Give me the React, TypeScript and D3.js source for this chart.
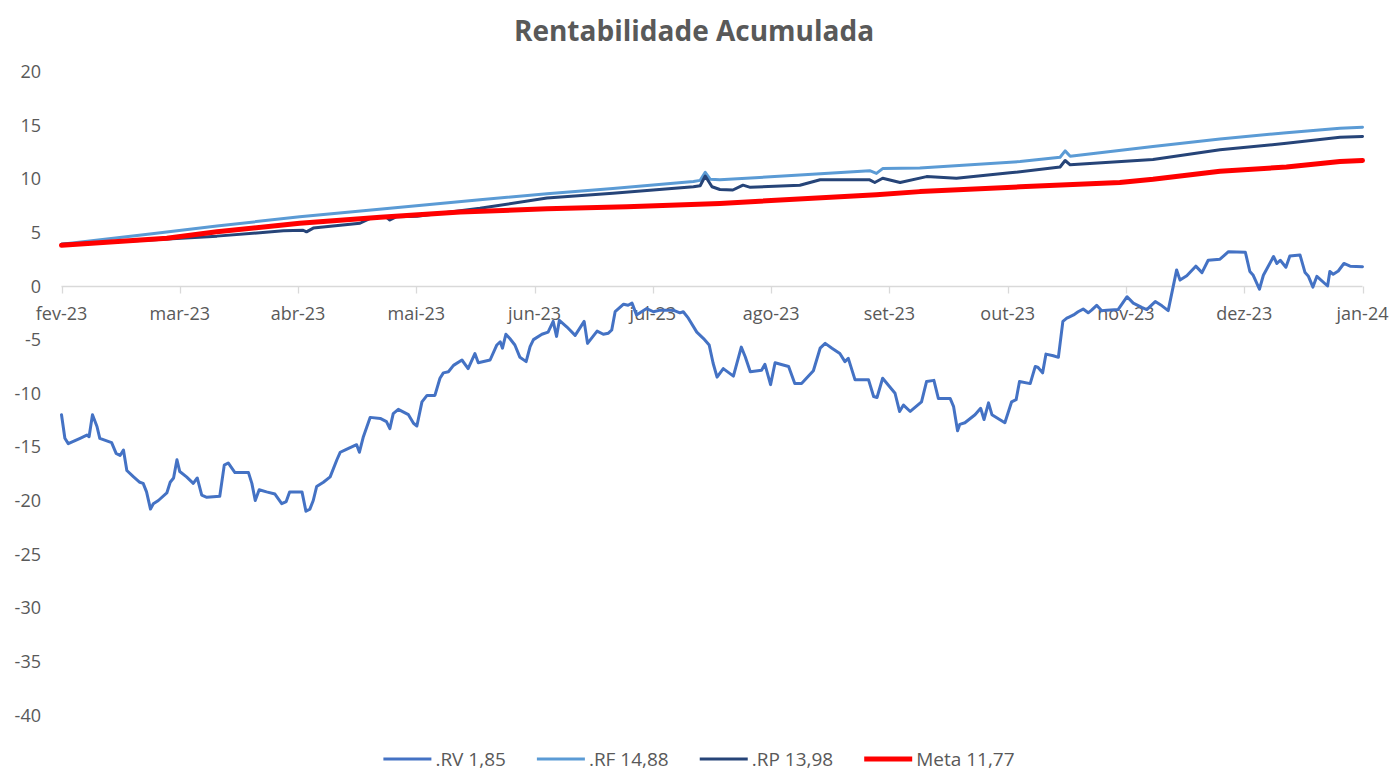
import React, { useEffect, useRef } from "react";
import * as d3 from "d3";

// x = business-day index since start of fev-23 (21 per month label)
const monthLabels = ["fev-23","mar-23","abr-23","mai-23","jun-23","jul-23","ago-23","set-23","out-23","nov-23","dez-23","jan-24"];
const daysPerLabel = 21;
const yTicks = [20, 15, 10, 5, 0, -5, -10, -15, -20, -25, -30, -35, -40];

const rvPoints: [number, number][] = [
  [0,-12.0],[0.6,-14.2],[1.2,-14.7],[3.3,-14.2],[4.5,-13.9],[4.9,-14.05],[5.5,-12.0],[6.3,-13.1],[6.8,-14.2],[8.9,-14.6],[9.7,-15.6],[10.4,-15.8],[11.0,-15.3],[11.6,-17.2],[12.8,-17.8],[13.9,-18.3],[14.5,-18.4],[15.1,-19.2],[15.8,-20.8],[16.3,-20.3],[17.2,-20.0],[18.7,-19.3],[19.3,-18.3],[19.9,-17.9],[20.5,-16.2],[21.0,-17.3],[22.2,-17.8],[23.4,-18.4],[24.1,-17.9],[24.9,-19.5],[25.8,-19.7],[28.1,-19.6],[28.9,-16.7],[29.6,-16.5],[30.8,-17.4],[33.2,-17.4],[33.8,-18.4],[34.4,-20.0],[35.1,-19.0],[36.4,-19.2],[37.9,-19.4],[39.1,-20.3],[39.9,-20.1],[40.5,-19.2],[42.7,-19.2],[43.4,-21.0],[44.1,-20.8],[44.7,-20.0],[45.3,-18.7],[46.5,-18.3],[47.7,-17.8],[48.9,-16.2],[49.5,-15.5],[50.3,-15.3],[52.4,-14.8],[52.9,-15.5],[53.6,-14.05],[54.8,-12.25],[56.6,-12.35],[57.7,-12.65],[58.3,-13.3],[58.9,-11.9],[59.8,-11.5],[61.6,-12.0],[62.5,-12.8],[63.1,-13.05],[64.0,-10.8],[64.9,-10.2],[66.3,-10.2],[67.2,-8.6],[67.8,-8.1],[68.7,-8.0],[69.6,-7.4],[71.1,-6.9],[72.2,-7.7],[73.4,-6.3],[74.0,-7.15],[76.1,-6.9],[77.3,-5.5],[77.9,-5.2],[78.3,-5.8],[78.9,-4.5],[79.6,-4.9],[80.5,-5.5],[81.4,-6.65],[82.5,-7.05],[83.2,-5.65],[83.8,-5.0],[85.3,-4.5],[86.4,-4.3],[87.3,-3.3],[87.9,-4.7],[88.4,-3.2],[89.7,-3.8],[91.2,-4.6],[92.8,-3.3],[93.4,-5.35],[95.1,-4.2],[96.2,-4.5],[97.1,-4.4],[97.7,-4.1],[98.3,-2.4],[99.8,-1.7],[100.6,-1.8],[101.3,-1.6],[102.1,-2.7],[103.0,-2.4],[103.9,-2.1],[105.1,-2.4],[106.3,-2.25],[108.6,-2.25],[109.8,-2.5],[110.4,-2.4],[111.3,-3.0],[112.8,-4.3],[114.0,-4.9],[115.0,-5.5],[115.7,-7.2],[116.4,-8.5],[117.5,-7.7],[119.3,-8.4],[120.7,-5.7],[121.4,-6.6],[122.3,-8.0],[124.3,-7.85],[124.9,-7.3],[125.9,-9.2],[126.7,-7.15],[129.1,-7.5],[130.2,-9.1],[131.4,-9.1],[133.5,-7.9],[134.7,-5.8],[135.6,-5.35],[136.8,-5.8],[138.2,-6.3],[139.1,-7.05],[139.7,-6.75],[140.9,-8.75],[143.3,-8.75],[144.2,-10.3],[144.8,-10.4],[145.8,-8.6],[148.0,-10.0],[148.8,-11.7],[149.5,-11.1],[150.7,-11.7],[152.7,-10.8],[153.6,-8.9],[154.9,-8.8],[155.7,-10.5],[157.8,-10.5],[158.4,-11.25],[159.1,-13.5],[159.5,-12.9],[160.4,-12.75],[162.2,-12.0],[163.2,-11.4],[163.8,-12.45],[164.6,-10.9],[165.2,-12.0],[167.5,-12.75],[168.7,-10.8],[169.5,-10.6],[170.1,-8.9],[172.0,-9.1],[172.9,-7.5],[173.4,-7.6],[174.2,-8.1],[174.8,-6.35],[176.1,-6.5],[177.0,-6.65],[177.8,-3.3],[178.5,-3.0],[178.9,-2.9],[179.7,-2.7],[180.5,-2.4],[181.4,-2.15],[182.3,-2.5],[182.9,-2.25],[183.8,-1.8],[184.7,-2.3],[185.6,-2.25],[187.6,-2.2],[189.2,-1.0],[190.3,-1.6],[191.8,-2.0],[192.7,-2.2],[194.2,-1.45],[195.4,-1.85],[196.5,-2.3],[198.0,1.5],[198.6,0.55],[199.8,0.95],[201.4,1.85],[202.5,1.25],[203.6,2.4],[205.7,2.5],[207.2,3.2],[210.2,3.15],[211.0,1.35],[211.6,1.0],[212.7,-0.3],[213.4,1.0],[215.2,2.75],[215.8,2.1],[216.4,2.4],[217.4,1.75],[218.1,2.8],[219.9,2.9],[220.8,1.25],[221.4,0.9],[222.2,-0.1],[222.9,0.9],[224.8,0.0],[225.2,1.35],[225.8,1.1],[226.7,1.4],[227.7,2.1],[228.8,1.85],[231,1.8]
];

const rfPoints: [number, number][] = [
  [0,3.9],[15.7,4.85],[27.6,5.6],[42.3,6.45],[58.3,7.25],[74.3,8.05],[86.2,8.6],[97.9,9.1],[112.2,9.75],[113.4,9.85],[114.3,10.6],[115.2,9.95],[116.9,9.9],[131.1,10.35],[143.5,10.75],[144.7,10.5],[145.8,10.95],[152.4,11.0],[170.2,11.6],[177.3,12.0],[178.2,12.6],[179.1,12.1],[193.8,13.0],[205.7,13.7],[217.5,14.3],[227.0,14.7],[231,14.8]
];

const rpPoints: [number, number][] = [
  [0,3.9],[6.8,4.05],[15.7,4.3],[27.6,4.65],[39.4,5.15],[42.9,5.2],[43.5,5.05],[44.7,5.4],[53.0,5.85],[54.8,6.3],[57.6,6.45],[58.3,6.15],[59.4,6.45],[63.1,6.5],[74.3,7.25],[86.2,8.2],[97.9,8.65],[112.2,9.25],[113.4,9.35],[114.3,10.25],[115.5,9.25],[116.9,9.0],[119.2,8.95],[121.0,9.4],[122.3,9.2],[131.1,9.4],[134.7,9.9],[143.5,9.9],[144.4,9.65],[145.8,10.05],[148.9,9.65],[153.6,10.2],[158.9,10.05],[168.4,10.55],[177.3,11.1],[178.2,11.7],[179.1,11.3],[193.8,11.8],[205.7,12.7],[217.5,13.3],[227.0,13.87],[231,13.95]
];

const metaPoints: [number, number][] = [
  [0,3.8],[18.7,4.45],[27.6,5.05],[42.3,5.85],[56.6,6.4],[70.8,6.9],[86.2,7.2],[100.4,7.4],[116.9,7.7],[144.7,8.5],[152.4,8.8],[170.2,9.25],[187.9,9.65],[193.8,9.95],[205.7,10.7],[217.5,11.1],[227.0,11.6],[231,11.7]
];

const seriesNames = [".RV 1,85", ".RF 14,88", ".RP 13,98", "Meta 11,77"];
const seriesColors = ["#4472C4", "#5B9BD5", "#264478", "#FF0000"];
const seriesWidths = [3, 3, 3, 5];
const seriesData = [rvPoints, rfPoints, rpPoints, metaPoints];

const W = 1393;
const H = 773;
const FONT = "'Open Sans', 'Noto Sans', sans-serif";
const TEXT = "#595959";

export default function App() {
  const ref = useRef<SVGSVGElement | null>(null);

  useEffect(() => {
    document.body.style.margin = "0";
    const svg = d3.select(ref.current);
    svg.selectAll("*").remove();

    const lastDay = (monthLabels.length - 1) * daysPerLabel;
    const x = d3.scaleLinear().domain([0, lastDay]).range([61.5, 1362.5]);
    const y = d3.scaleLinear().domain([-40, 20]).range([715, 71.5]);

    svg.append("rect").attr("width", W).attr("height", H).attr("fill", "#fff");

    // title
    svg.append("text")
      .attr("x", 694).attr("y", 41)
      .attr("text-anchor", "middle")
      .attr("font-family", FONT).attr("font-weight", 700).attr("font-size", 28)
      .attr("fill", TEXT)
      .text("Rentabilidade Acumulada");

    // y labels
    svg.append("g").selectAll("text").data(yTicks).join("text")
      .attr("x", 41).attr("y", (d) => y(d) + 6.5)
      .attr("text-anchor", "end")
      .attr("font-family", FONT).attr("font-size", 18).attr("fill", TEXT)
      .text((d) => String(d));

    // x axis at 0
    const y0 = Math.round(y(0)) + 0.5;
    svg.append("line")
      .attr("x1", x(0)).attr("x2", x(lastDay))
      .attr("y1", y0).attr("y2", y0)
      .attr("stroke", "#D9D9D9").attr("stroke-width", 1.3);
    const ticks = monthLabels.map((m, i) => ({ m, d: i * daysPerLabel }));
    svg.append("g").selectAll("line").data(ticks).join("line")
      .attr("x1", (d) => Math.round(x(d.d)) + 0.5).attr("x2", (d) => Math.round(x(d.d)) + 0.5)
      .attr("y1", y0).attr("y2", y0 + 7)
      .attr("stroke", "#D9D9D9").attr("stroke-width", 1.3);
    svg.append("g").selectAll("text").data(ticks).join("text")
      .attr("x", (d) => x(d.d)).attr("y", y0 + 33)
      .attr("text-anchor", "middle")
      .attr("font-family", FONT).attr("font-size", 18).attr("fill", TEXT)
      .text((d) => d.m);

    // series
    const line = d3.line<[number, number]>()
      .x((d) => x(d[0]))
      .y((d) => y(d[1]))
      .curve(d3.curveLinear);

    seriesData.forEach((data, i) => {
      svg.append("path")
        .attr("d", line(data) as string)
        .attr("fill", "none")
        .attr("stroke", seriesColors[i])
        .attr("stroke-width", seriesWidths[i])
        .attr("stroke-linejoin", "round")
        .attr("stroke-linecap", "round");
    });

    // legend
    const lg = svg.append("g");
    const items = seriesNames.map((name, i) => {
      const g = lg.append("g");
      g.append("line")
        .attr("x1", 0).attr("x2", 48).attr("y1", 0).attr("y2", 0)
        .attr("stroke", seriesColors[i]).attr("stroke-width", seriesWidths[i]);
      const t = g.append("text")
        .attr("x", 52).attr("y", 6.5)
        .attr("font-family", FONT).attr("font-size", 19).attr("fill", TEXT)
        .text(name);
      const w = 52 + (t.node() as SVGTextElement).getComputedTextLength();
      return { g, w };
    });
    const gap = 31;
    const total = items.reduce((s, it) => s + it.w, 0) + gap * (items.length - 1);
    let cx = 699 - total / 2;
    items.forEach((it) => {
      it.g.attr("transform", `translate(${cx},759)`);
      cx += it.w + gap;
    });
  }, []);

  return (
    <svg
      ref={ref}
      width={W}
      height={H}
      style={{ position: "absolute", left: 0, top: 0, display: "block" }}
    />
  );
}
